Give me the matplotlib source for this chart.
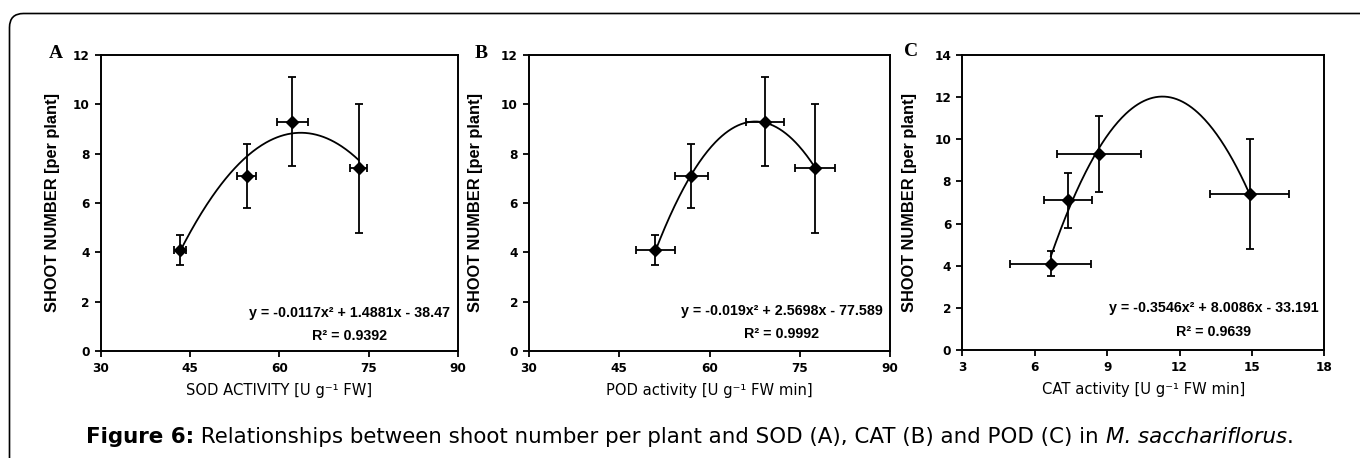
"""
Shoot number per plant vs. antioxidant enzyme activity (SOD, POD, CAT),
with quadratic trend lines.
"""
import numpy as np
import matplotlib.pyplot as plt
import matplotlib.patches as mpatches
from matplotlib.path import Path
from matplotlib.transforms import IdentityTransform

plt.rcParams['font.family'] = ['DejaVu Sans']

# shoot number per plant (same for all panels)
shoots = [4.1, 7.1, 9.3, 7.4]
shoots_err = [0.6, 1.3, 1.8, 2.6]

# panel A: SOD
sod = [43.3, 54.5, 62.2, 73.3]
sod_err = [1.05, 1.6, 2.55, 1.4]
sod_fit = [-0.0117, 1.4881, -38.47]

# panel B: POD
pod = [51.0, 57.0, 69.2, 77.5]
pod_err = [3.25, 2.7, 3.1, 3.35]
pod_fit = [-0.019, 2.5698, -77.589]

# panel C: CAT
cat = [6.67, 7.39, 8.66, 14.91]
cat_err = [1.68, 1.0, 1.73, 1.63]
cat_fit = [-0.3546, 8.0086, -33.191]

panels = [
    ('A', sod, sod_err, sod_fit, [30, 45, 60, 75, 90], [0, 2, 4, 6, 8, 10, 12],
     'SOD ACTIVITY [U g\u207b\u00b9 FW]',
     'y = -0.0117x\u00b2 + 1.4881x - 38.47', 'R\u00b2 = 0.9392'),
    ('B', pod, pod_err, pod_fit, [30, 45, 60, 75, 90], [0, 2, 4, 6, 8, 10, 12],
     'POD activity [U g\u207b\u00b9 FW min]',
     'y = -0.019x\u00b2 + 2.5698x - 77.589', 'R\u00b2 = 0.9992'),
    ('C', cat, cat_err, cat_fit, [3, 6, 9, 12, 15, 18], [0, 2, 4, 6, 8, 10, 12, 14],
     'CAT activity [U g\u207b\u00b9 FW min]',
     'y = -0.3546x\u00b2 + 8.0086x - 33.191', 'R\u00b2 = 0.9639'),
]

W, H = 1360, 458
fig = plt.figure(figsize=(W / 100, H / 100), dpi=100)

# axes boxes in pixels: left, right, top, bottom
boxes = [(100.7, 458, 55, 351), (529, 890, 55, 351), (962.3, 1324.3, 55, 350)]
ylab_x = [-0.114, -0.127, -0.125]
eq_pos = [(0.696, 0.128, 0.051), (0.70, 0.136, 0.057), (0.695, 0.142, 0.062)]
letter_pos = [(56, 54), (481, 53), (911, 52)]

for i, (letter, x, xerr, fit, xt, yt, xlab, eq, r2) in enumerate(panels):
    l, r, t, b = boxes[i]
    ax = fig.add_axes([l / W, (H - b) / H, (r - l) / W, (b - t) / H])

    xs = np.linspace(min(x), max(x), 200)
    ax.plot(xs, np.polyval(fit, xs), color='black', lw=1.3, zorder=2)
    ax.errorbar(x, shoots, xerr=xerr, yerr=shoots_err, fmt='D', color='black',
                ms=6.5, elinewidth=1.3, capsize=3, capthick=1.3, zorder=3)

    ax.set_xlim(xt[0], xt[-1])
    ax.set_ylim(yt[0], yt[-1])
    ax.set_xticks(xt)
    ax.set_yticks(yt)
    ax.tick_params(direction='out', length=4, width=1.3, labelsize=8.7, pad=4)
    for lab in ax.get_xticklabels() + ax.get_yticklabels():
        lab.set_fontweight('bold')
    for s in ax.spines.values():
        s.set_linewidth(1.4)

    ax.set_xlabel(xlab, fontsize=10.6)
    ax.xaxis.set_label_coords(0.5, -0.108)
    ax.set_ylabel('SHOOT NUMBER [per plant]', fontsize=11.8, fontweight='bold',
                  family='Liberation Sans')
    ax.yaxis.set_label_coords(ylab_x[i], 0.5)

    ex, ey, ry = eq_pos[i]
    ax.text(ex, ey, eq, transform=ax.transAxes, ha='center', va='center',
            fontsize=10.3, fontweight='bold', family='Liberation Sans')
    ax.text(ex, ry, r2, transform=ax.transAxes, ha='center', va='center',
            fontsize=10.3, fontweight='bold', family='Liberation Sans')

    lx, ly = letter_pos[i]
    fig.text(lx / W, (H - ly) / H, letter, ha='center', va='center',
             family='Liberation Serif', fontweight='bold', fontsize=14)

# outer frame: left and top edges with a rounded corner (pixel coords)
fx, fy, rad = 9.5, H - 13.5, 14
frame_path = Path([(fx, 0), (fx, fy - rad), (fx, fy), (fx + rad, fy), (W, fy)],
                  [Path.MOVETO, Path.LINETO, Path.CURVE3, Path.CURVE3, Path.LINETO])
fig.add_artist(mpatches.PathPatch(frame_path, transform=IdentityTransform(),
                                  fill=False, edgecolor='black', lw=1.2,
                                  capstyle='butt'))

# caption built from pieces with different styles
pieces = [('Figure 6:', 'bold', 'normal'),
          (' Relationships between shoot number per plant and SOD (A), CAT (B) and POD (C) in ', 'normal', 'normal'),
          ('M. sacchariflorus', 'normal', 'italic'),
          ('.', 'normal', 'normal')]
renderer = fig.canvas.get_renderer()
cx = 86
for txt, wt, st in pieces:
    tt = fig.text(cx / W, (H - 443) / H, txt, ha='left', va='baseline',
                  fontsize=15.4, fontweight=wt, fontstyle=st)
    bb = tt.get_window_extent(renderer)
    cx += bb.width

plt.savefig('out.png', dpi=100)
